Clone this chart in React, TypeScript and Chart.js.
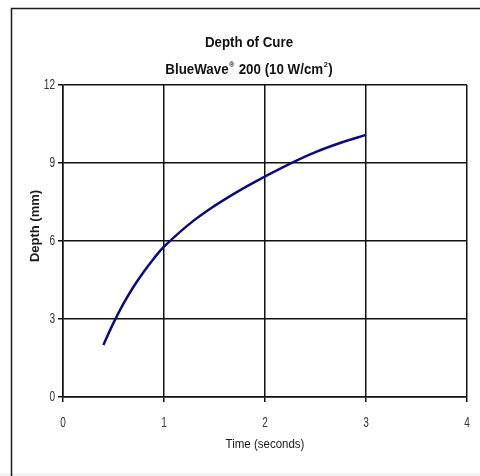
import React, { useEffect, useRef } from "react";
import { Chart, registerables } from "chart.js";

Chart.register(...registerables);

const timeSeconds = [0.4, 0.5, 0.6, 0.7, 0.8, 0.9, 1.0, 1.25, 1.5, 1.75, 2.0, 2.25, 2.5, 2.75, 3.0];
const depthMm = [2.0, 2.85, 3.6, 4.25, 4.82, 5.33, 5.78, 6.65, 7.35, 7.95, 8.48, 8.98, 9.42, 9.78, 10.08];
const xTicks = [0, 1, 2, 3, 4];
const yTicks = [0, 3, 6, 9, 12];

const titleText = "Depth of Cure";
const subtitleRuns: [string, boolean][] = [
  ["BlueWave", false],
  ["®", true],
  [" 200 (10 W/cm", false],
  ["2", true],
  [")", false],
];
const xTitle = "Time (seconds)";
const yTitle = "Depth (mm)";

const FAMILY = "'Liberation Sans', Arial, sans-serif";

function narrowText(ctx: any, text: string, x: number, y: number, sx: number, align: string) {
  ctx.save();
  ctx.translate(x, y);
  ctx.scale(sx, 1);
  ctx.textAlign = align;
  ctx.fillText(text, 0, 0);
  ctx.restore();
}

const decorPlugin = {
  id: "decor",
  beforeDraw(chart: any) {
    const ctx = chart.ctx;
    ctx.save();
    ctx.fillStyle = "#ffffff";
    ctx.fillRect(0, 0, chart.width, chart.height);
    ctx.fillStyle = "#f3f3f3";
    ctx.fillRect(0, 473, chart.width, 3);
    ctx.restore();
  },
  afterDraw(chart: any) {
    const ctx = chart.ctx;
    const area = chart.chartArea;
    ctx.save();
    // outer frame
    ctx.strokeStyle = "#1a1a1a";
    ctx.lineWidth = 1.5;
    ctx.strokeRect(11.5, 8.5, 520, 520);

    ctx.textBaseline = "middle";

    // tick labels
    ctx.fillStyle = "#333";
    ctx.font = `14px ${FAMILY}`;
    for (const v of yTicks) {
      const py = chart.scales.y.getPixelForValue(v);
      narrowText(ctx, String(v), 55, py, 0.72, "right");
    }
    for (const v of xTicks) {
      const px = chart.scales.x.getPixelForValue(v);
      narrowText(ctx, String(v), px, 423, 0.72, "center");
    }

    // title
    ctx.fillStyle = "#111";
    ctx.font = `bold 14.5px ${FAMILY}`;
    const sx = 0.92;
    narrowText(ctx, titleText, 249, 43, sx, "center");

    // subtitle with superscripts
    const normalFont = `bold 14.5px ${FAMILY}`;
    const supFont = `bold 8px ${FAMILY}`;
    let total = 0;
    for (const [t, sup] of subtitleRuns) {
      ctx.font = sup ? supFont : normalFont;
      total += (ctx.measureText(t).width + (sup ? 1 : 0)) * sx;
    }
    let x = 249 - total / 2;
    for (const [t, sup] of subtitleRuns) {
      ctx.font = sup ? supFont : normalFont;
      narrowText(ctx, t, x + (sup ? 0.5 : 0), sup ? 65 : 70, sx, "left");
      x += (ctx.measureText(t).width + (sup ? 1 : 0)) * sx;
    }

    // x axis title
    ctx.font = `12.5px ${FAMILY}`;
    ctx.fillStyle = "#1a1a1a";
    narrowText(ctx, xTitle, (area.left + area.right) / 2, 445, 0.92, "center");

    // y axis title
    ctx.translate(35, 226);
    ctx.rotate(-Math.PI / 2);
    ctx.font = `bold 13px ${FAMILY}`;
    ctx.textAlign = "center";
    ctx.fillText(yTitle, 0, 0);
    ctx.restore();
  },
};

export default function App() {
  const ref = useRef<HTMLCanvasElement | null>(null);
  useEffect(() => {
    if (!ref.current) return;
    const chart = new Chart(ref.current, {
      type: "line",
      data: {
        datasets: [
          {
            data: timeSeconds.map((t, i) => ({ x: t, y: depthMm[i] })),
            borderColor: "#0b0b7a",
            borderWidth: 2.5,
            pointRadius: 0,
            tension: 0.4,
            fill: false,
          },
        ],
      },
      options: {
        responsive: false,
        animation: false,
        events: [],
        layout: { padding: { left: 11, right: 13, top: 85, bottom: 29 } },
        plugins: { legend: { display: false }, title: { display: false }, tooltip: { enabled: false } },
        scales: {
          x: {
            type: "linear",
            min: 0,
            max: 4,
            afterBuildTicks: (s: any) => {
              s.ticks = xTicks.map((v) => ({ value: v }));
            },
            afterFit: (s: any) => {
              s.height = 50;
            },
            ticks: { display: false },
            grid: { color: "#111", lineWidth: 1.5, tickLength: 5, drawTicks: true },
            border: { color: "#111", width: 1.5 },
          },
          y: {
            type: "linear",
            min: 0,
            max: 12,
            afterBuildTicks: (s: any) => {
              s.ticks = yTicks.map((v) => ({ value: v }));
            },
            afterFit: (s: any) => {
              s.width = 52;
            },
            ticks: { display: false },
            grid: { color: "#111", lineWidth: 1.5, tickLength: 5, drawTicks: true },
            border: { color: "#111", width: 1.5 },
          },
        },
      },
      plugins: [decorPlugin],
    } as any);
    return () => chart.destroy();
  }, []);
  return (
    <div style={{ position: "fixed", left: 0, top: 0, width: 480, height: 476 }}>
      <canvas ref={ref} width={480} height={476} style={{ display: "block", width: 480, height: 476 }} />
    </div>
  );
}
